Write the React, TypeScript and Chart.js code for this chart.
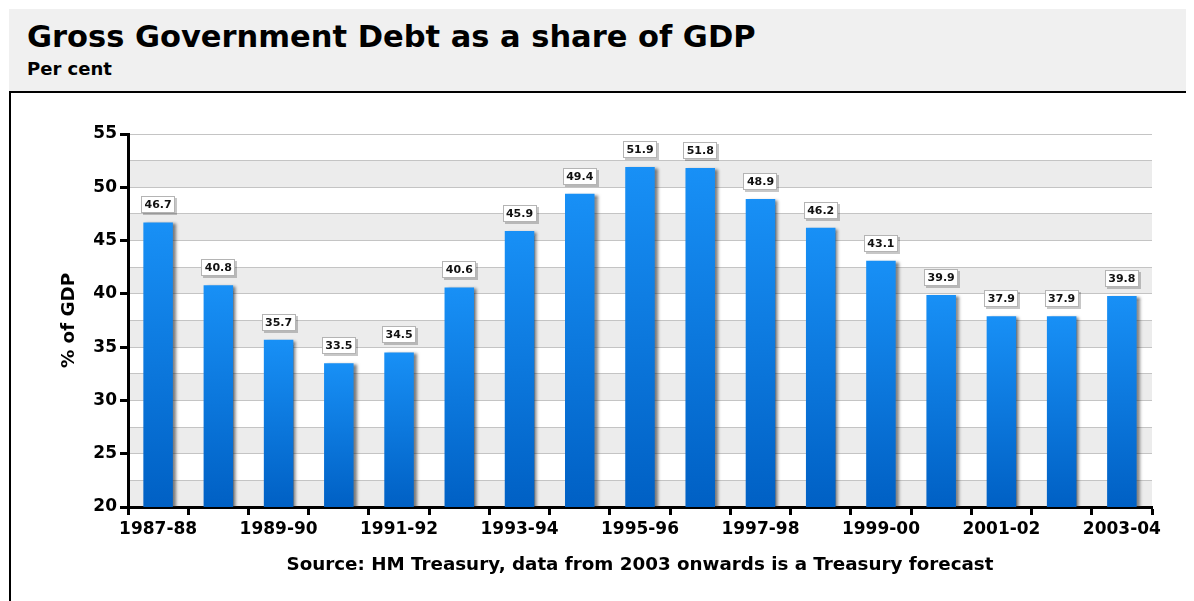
import React, { useEffect, useRef } from "react";
import { Chart, registerables } from "chart.js";

Chart.register(...registerables);

// ---- Data ----
const categories: string[] = [
  "1987-88", "1988-89", "1989-90", "1990-91", "1991-92", "1992-93",
  "1993-94", "1994-95", "1995-96", "1996-97", "1997-98", "1998-99",
  "1999-00", "2000-01", "2001-02", "2002-03", "2003-04",
];
const debtShare: number[] = [
  46.7, 40.8, 35.7, 33.5, 34.5, 40.6, 45.9, 49.4, 51.9,
  51.8, 48.9, 46.2, 43.1, 39.9, 37.9, 37.9, 39.8,
];
const yMin = 20;
const yMax = 55;
const yGridStep = 2.5;
const yLabelStep = 5;

const chartTitle = "Gross Government Debt as a share of GDP";
const chartSubtitle = "Per cent";
const yAxisTitle = "% of GDP";
const sourceNote = "Source: HM Treasury, data from 2003 onwards is a Treasury forecast";

const FONT = '"DejaVu Sans", Verdana, sans-serif';

const decorPlugin = {
  id: "decor",
  beforeDraw(chart: any) {
    const { ctx, chartArea } = chart;
    const y = chart.scales.y;
    if (!chartArea || !y) return;
    ctx.save();
    ctx.fillStyle = "#ececec";
    for (let v = yMin; v < yMax; v += yLabelStep) {
      const top = y.getPixelForValue(v + yGridStep);
      const bottom = y.getPixelForValue(v);
      ctx.fillRect(chartArea.left, top, chartArea.right - chartArea.left, bottom - top);
    }
    ctx.restore();
  },
  beforeDatasetsDraw(chart: any) {
    const ctx = chart.ctx;
    ctx.save();
    ctx.shadowColor = "rgba(40,40,40,0.6)";
    ctx.shadowOffsetX = 3;
    ctx.shadowOffsetY = 1;
    ctx.shadowBlur = 3;
  },
  afterDatasetsDraw(chart: any) {
    const ctx = chart.ctx;
    ctx.restore();
    const meta = chart.getDatasetMeta(0);
    ctx.save();
    ctx.font = `bold 11px ${FONT}`;
    meta.data.forEach((bar: any, i: number) => {
      const text = debtShare[i].toFixed(1);
      const w = Math.round(ctx.measureText(text).width + 7);
      const h = 17;
      const x = Math.round(bar.x - w / 2);
      const top = Math.round(bar.y - 9 - h);
      ctx.fillStyle = "rgba(0,0,0,0.22)";
      ctx.fillRect(x + 2, top + 2, w, h);
      ctx.fillStyle = "#ffffff";
      ctx.fillRect(x, top, w, h);
      ctx.strokeStyle = "#b4b4b4";
      ctx.lineWidth = 1;
      ctx.strokeRect(x + 0.5, top + 0.5, w - 1, h - 1);
      ctx.fillStyle = "#111111";
      ctx.textAlign = "center";
      ctx.textBaseline = "middle";
      ctx.fillText(text, bar.x, top + h / 2 + 0.5);
    });
    ctx.restore();
  },
};

function barFill(c: any) {
  const chart = c.chart;
  const ys = chart.scales && chart.scales.y;
  if (!ys || c.raw === undefined || !chart.chartArea) return "#1088ee";
  const top = ys.getPixelForValue(c.raw);
  const bottom = ys.getPixelForValue(yMin);
  if (!isFinite(top) || !isFinite(bottom) || bottom - top < 1) return "#1088ee";
  const g = chart.ctx.createLinearGradient(0, top, 0, bottom);
  g.addColorStop(0, "#1890f6");
  g.addColorStop(1, "#0060c4");
  return g;
}

function DebtChart() {
  const ref = useRef<HTMLCanvasElement | null>(null);
  useEffect(() => {
    if (!ref.current) return;
    const tickFont = { family: FONT, size: 17, weight: "bold" as const };
    const titleFont = { family: FONT, size: 18.3, weight: "bold" as const };
    const chart = new Chart(ref.current, {
      type: "bar",
      data: {
        labels: categories,
        datasets: [
          {
            data: debtShare,
            backgroundColor: barFill as any,
            borderWidth: 0,
            barPercentage: 0.49,
            categoryPercentage: 1,
          },
        ],
      },
      options: {
        animation: false,
        responsive: false,
        maintainAspectRatio: false,
        devicePixelRatio: 1,
        layout: { padding: { left: 0, right: 42, top: 41, bottom: 0 } },
        plugins: {
          legend: { display: false },
          tooltip: { enabled: false },
          title: { display: false },
        },
        scales: {
          x: {
            type: "category",
            offset: true,
            grid: {
              offset: true,
              drawOnChartArea: false,
              drawTicks: true,
              tickLength: 8,
              tickWidth: 3,
              tickColor: "#000",
            },
            border: { display: true, color: "#000", width: 3 },
            ticks: {
              autoSkip: false,
              maxRotation: 0,
              minRotation: 0,
              padding: 4,
              color: "#000",
              font: tickFont,
              callback: (_v: any, i: number) => (i % 2 === 0 ? categories[i] : ""),
            },
            title: {
              display: true,
              text: sourceNote,
              color: "#000",
              font: titleFont,
              padding: { top: 0, bottom: 25 },
            },
            afterFit: (s: any) => {
              s.height = 94;
            },
          } as any,
          y: {
            min: yMin,
            max: yMax,
            ticks: {
              stepSize: yGridStep,
              padding: 3,
              color: "#000",
              font: tickFont,
              callback: (v: any) => (Number(v) % yLabelStep === 0 ? String(v) : ""),
            },
            grid: {
              color: "#c4c4c4",
              lineWidth: 1,
              drawTicks: true,
              tickLength: 8,
              tickWidth: 3,
              tickColor: (c: any) =>
                c.tick && c.tick.value % yLabelStep === 0 ? "#000" : "rgba(0,0,0,0)",
            },
            border: { display: true, color: "#000", width: 3 },
            title: {
              display: true,
              text: yAxisTitle,
              color: "#000",
              font: titleFont,
              padding: { top: 47, bottom: 0 },
            },
            afterFit: (s: any) => {
              s.width = 117;
            },
          } as any,
        },
      },
      plugins: [decorPlugin],
    });
    return () => chart.destroy();
  }, []);
  return (
    <canvas
      ref={ref}
      width={1183}
      height={508}
      style={{ position: "absolute", left: 0, top: 0, width: 1183, height: 508, display: "block" }}
    />
  );
}

export default function App() {
  return (
    <div style={{ position: "relative", width: 1186, height: 593, overflow: "hidden", fontFamily: FONT }}>
      <div
        style={{
          position: "absolute",
          left: 1,
          top: 1,
          width: 1185,
          height: 82,
          background: "#f0f0f0",
          borderBottom: "2px solid #000",
        }}
      >
        <div
          style={{
            position: "absolute",
            left: 18,
            top: 12,
            fontSize: 30.5,
            lineHeight: "31px",
            fontWeight: "bold",
            color: "#000",
            whiteSpace: "nowrap",
          }}
        >
          {chartTitle}
        </div>
        <div
          style={{
            position: "absolute",
            left: 18,
            top: 51,
            fontSize: 18,
            lineHeight: "18px",
            fontWeight: "bold",
            color: "#000",
            whiteSpace: "nowrap",
          }}
        >
          {chartSubtitle}
        </div>
      </div>
      <div
        style={{
          position: "absolute",
          left: 1,
          top: 85,
          width: 1185,
          height: 508,
          boxSizing: "border-box",
          borderLeft: "2px solid #000",
          background: "#fff",
        }}
      >
        <DebtChart />
      </div>
    </div>
  );
}
